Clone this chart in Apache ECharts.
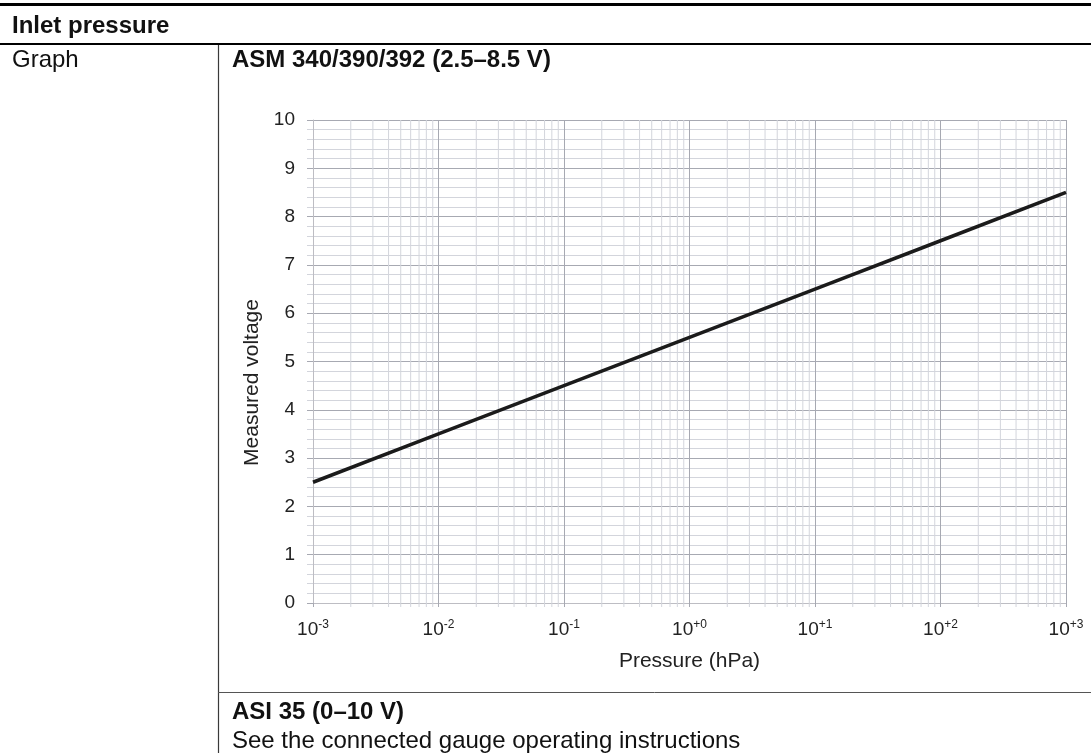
<!DOCTYPE html>
<html>
<head>
<meta charset="utf-8">
<script src="https://cdn.jsdelivr.net/npm/echarts@6/dist/echarts.min.js"></script>
<style>
html,body{margin:0;padding:0;background:#fff;}
#chart{width:1091px;height:753px;}
</style>
</head>
<body>
<div id="chart"></div>
<script>
// ---- data ----
const pressure = [0.001, 0.01, 0.1, 1, 10, 100, 1000];          // hPa
const voltage  = [2.5, 3.5, 4.5, 5.5, 6.5, 7.5, 8.5];            // V
const decades  = [0.001, 0.01, 0.1, 1, 10, 100];
const minorMultipliers = [2, 3, 4, 5, 6, 7, 8, 9];
const xTickLabels = {'-3':'-3','-2':'-2','-1':'-1','0':'+0','1':'+1','2':'+2','3':'+3'};

const minorX = [];
decades.forEach(d => minorMultipliers.forEach(m => minorX.push([d * m])));

const FONT = '"Liberation Sans", Arial, sans-serif';
const MAJOR = '#a7a9b2';
const MINOR = '#d3d5dc';

const chart = echarts.init(document.getElementById('chart'), null, {renderer: 'canvas'});
chart.setOption({
  backgroundColor: '#ffffff',
  animation: false,
  textStyle: {fontFamily: FONT},
  grid: {left: 313, top: 120, width: 753, height: 483, containLabel: false},
  xAxis: {
    type: 'log', logBase: 10, min: 0.001, max: 1000,
    name: 'Pressure (hPa)', nameLocation: 'middle', nameGap: 48,
    nameTextStyle: {fontSize: 21, color: '#222', fontFamily: FONT},
    axisLine: {show: true, lineStyle: {color: '#bdbdc3', width: 1}},
    axisTick: {show: true, length: 4, lineStyle: {color: MAJOR}},
    splitLine: {show: true, lineStyle: {color: MAJOR, width: 1}},
    axisLabel: {
      margin: 16,
      formatter: function (v) {
        const e = Math.round(Math.log10(v));
        return '{b|10}{s|' + xTickLabels[String(e)] + '}';
      },
      rich: {
        b: {fontSize: 19, color: '#222', fontFamily: FONT},
        s: {fontSize: 12, color: '#222', fontFamily: FONT, verticalAlign: 'bottom', padding: [0, 0, 9, 0]}
      }
    }
  },
  yAxis: {
    type: 'value', min: 0, max: 10, interval: 1,
    name: 'Measured voltage', nameLocation: 'middle', nameGap: 49, nameRotate: 90,
    nameTextStyle: {fontSize: 21, color: '#222', fontFamily: FONT, padding: [0, 42, 0, 0]},
    axisLine: {show: true, lineStyle: {color: '#bdbdc3', width: 1}},
    axisTick: {show: true, length: 6, lineStyle: {color: MAJOR}},
    minorTick: {show: true, splitNumber: 5, length: 6, lineStyle: {color: MINOR}},
    splitLine: {show: true, lineStyle: {color: MAJOR, width: 1}},
    minorSplitLine: {show: true, lineStyle: {color: MINOR, width: 1}},
    axisLabel: {margin: 18, fontSize: 19, color: '#222', fontFamily: FONT}
  },
  series: [
    {
      type: 'custom',
      silent: true,
      z: 1,
      data: minorX,
      renderItem: function (params, api) {
        const v = api.value(0);
        const top = api.coord([v, 10]);
        const bot = api.coord([v, 0]);
        return {
          type: 'line',
          shape: {x1: top[0], y1: top[1], x2: bot[0], y2: bot[1] + 4},
          style: {stroke: MINOR, lineWidth: 1}
        };
      }
    },
    {
      type: 'line',
      z: 5,
      data: pressure.map((p, i) => [p, voltage[i]]),
      showSymbol: false,
      lineStyle: {color: '#1b1b1b', width: 3.5},
      silent: true
    }
  ],
  graphic: [
    {type: 'line', shape: {x1: 0, y1: 4.5, x2: 1091, y2: 4.5}, style: {stroke: '#000', lineWidth: 3}},
    {type: 'line', shape: {x1: 0, y1: 44, x2: 1091, y2: 44}, style: {stroke: '#000', lineWidth: 2}},
    {type: 'line', shape: {x1: 218.5, y1: 45, x2: 218.5, y2: 753}, style: {stroke: '#3a3a3a', lineWidth: 1.2}},
    {type: 'line', shape: {x1: 218, y1: 692.5, x2: 1091, y2: 692.5}, style: {stroke: '#555', lineWidth: 1}},
    {type: 'text', style: {x: 12, y: 26, text: 'Inlet pressure', font: 'bold 24px ' + FONT, fill: '#111', verticalAlign: 'middle'}},
    {type: 'text', style: {x: 12, y: 60, text: 'Graph', font: '24px ' + FONT, fill: '#111', verticalAlign: 'middle'}},
    {type: 'text', style: {x: 232, y: 60, text: 'ASM 340/390/392 (2.5–8.5 V)', font: 'bold 24px ' + FONT, fill: '#111', verticalAlign: 'middle'}},
    {type: 'text', style: {x: 232, y: 712, text: 'ASI 35 (0–10 V)', font: 'bold 24px ' + FONT, fill: '#111', verticalAlign: 'middle'}},
    {type: 'text', style: {x: 232, y: 741, text: 'See the connected gauge operating instructions', font: '24px ' + FONT, fill: '#111', verticalAlign: 'middle'}}
  ]
});
</script>
</body>
</html>
